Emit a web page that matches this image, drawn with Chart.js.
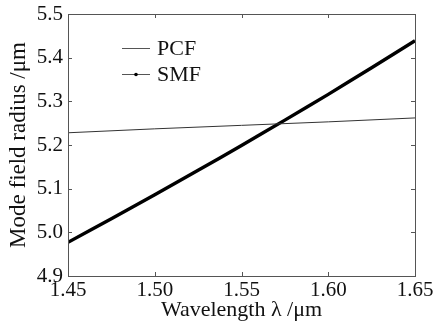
<!DOCTYPE html>
<html>
<head>
<meta charset="utf-8">
<script src="https://cdn.jsdelivr.net/npm/chart.js@4/dist/chart.umd.min.js"></script>
<style>
  body { margin: 0; background: #fff; }
  canvas { display: block; }
</style>
</head>
<body>
<canvas id="chart" width="433" height="323"></canvas>
<script>
// data
const pcfWavelength = [1.45, 1.50, 1.55, 1.60, 1.65];
const pcfRadius = [5.228, 5.237, 5.245, 5.253, 5.262];
const smfWavelength = [1.45, 1.475, 1.50, 1.525, 1.55, 1.575, 1.60, 1.625, 1.65];
const smfRadius = [4.977, 5.031, 5.086, 5.142, 5.199, 5.257, 5.316, 5.377, 5.439];
const xTicks = [1.45, 1.50, 1.55, 1.60, 1.65];
const yTicks = [4.9, 5.0, 5.1, 5.2, 5.3, 5.4, 5.5];
const seriesNames = ['PCF', 'SMF'];

const serif = "'Liberation Serif', 'Times New Roman', serif";

function toPoints(xs, ys) {
    return xs.map((x, i) => ({ x: x, y: ys[i] }));
}

// frame, inward ticks on all four sides, and the legend inside the plot
const framePlugin = {
    id: 'frame',
    afterDraw(chart) {
        const c = chart.ctx;
        const a = chart.chartArea;
        const xs = chart.scales.x, ys = chart.scales.y;
        c.save();
        c.strokeStyle = '#555';
        c.lineWidth = 1;
        c.strokeRect(Math.round(a.left) + 0.5, Math.round(a.top) + 0.5,
            Math.round(a.right - a.left), Math.round(a.bottom - a.top));
        c.beginPath();
        xTicks.forEach(v => {
            const px = Math.round(xs.getPixelForValue(v)) + 0.5;
            c.moveTo(px, a.bottom); c.lineTo(px, a.bottom - 4);
            c.moveTo(px, a.top); c.lineTo(px, a.top + 4);
        });
        yTicks.forEach(v => {
            const py = Math.round(ys.getPixelForValue(v)) + 0.5;
            c.moveTo(a.left, py); c.lineTo(a.left + 4, py);
            c.moveTo(a.right, py); c.lineTo(a.right - 4, py);
        });
        c.stroke();

        // legend
        const lx = 122, ly = 48, gap = 26;
        c.font = '22px ' + serif;
        c.textBaseline = 'middle';
        chart.data.datasets.forEach((ds, i) => {
            const y = ly + i * gap + 0.5;
            c.beginPath();
            c.strokeStyle = '#555';
            c.lineWidth = 1;
            c.moveTo(lx, y); c.lineTo(lx + 28, y);
            c.stroke();
            if (i === 1) {
                c.beginPath();
                c.fillStyle = '#000';
                c.arc(lx + 14, y, 1.8, 0, Math.PI * 2);
                c.fill();
            }
            c.fillStyle = '#111';
            c.fillText(seriesNames[i], lx + 35, y + 1);
        });
        c.restore();
    }
};

const chart = new Chart(document.getElementById('chart').getContext('2d'), {
    type: 'scatter',
    data: {
        datasets: [
            {
                label: seriesNames[0],
                data: toPoints(pcfWavelength, pcfRadius),
                showLine: true,
                borderColor: '#333',
                borderWidth: 1,
                pointRadius: 0
            },
            {
                label: seriesNames[1],
                data: toPoints(smfWavelength, smfRadius),
                showLine: true,
                borderColor: '#000',
                borderWidth: 3.4,
                borderJoinStyle: 'round',
                tension: 0.2,
                pointRadius: 0
            }
        ]
    },
    options: {
        responsive: false,
        animation: false,
        layout: { padding: { top: 14, right: 18, left: 0, bottom: 0 } },
        plugins: {
            legend: { display: false },
            tooltip: { enabled: false }
        },
        scales: {
            x: {
                type: 'linear',
                min: 1.45,
                max: 1.65,
                afterBuildTicks: s => { s.ticks = xTicks.map(v => ({ value: v })); },
                afterFit: s => { s.height = 47; s.paddingLeft = 0; s.paddingRight = 0; },
                grid: { display: false, drawTicks: false },
                border: { display: false },
                ticks: {
                    autoSkip: false,
                    maxRotation: 0,
                    padding: 2,
                    color: '#111',
                    font: { family: serif, size: 21 },
                    callback: v => v.toFixed(2)
                },
                title: {
                    display: true,
                    text: 'Wavelength λ /μm',
                    color: '#111',
                    font: { family: serif, size: 22 },
                    padding: { top: -1, bottom: 0 }
                }
            },
            y: {
                type: 'linear',
                min: 4.9,
                max: 5.5,
                afterBuildTicks: s => { s.ticks = yTicks.map(v => ({ value: v })); },
                afterFit: s => { s.width = 68; s.paddingTop = 0; s.paddingBottom = 0; },
                grid: { display: false, drawTicks: false },
                border: { display: false },
                ticks: {
                    autoSkip: false,
                    padding: 5,
                    color: '#111',
                    font: { family: serif, size: 21 },
                    callback: v => v.toFixed(1)
                },
                title: {
                    display: true,
                    text: 'Mode field radius /μm',
                    color: '#111',
                    font: { family: serif, size: 23 },
                    padding: { top: 5, bottom: 0 }
                }
            }
        }
    },
    plugins: [framePlugin]
});
</script>
</body>
</html>
